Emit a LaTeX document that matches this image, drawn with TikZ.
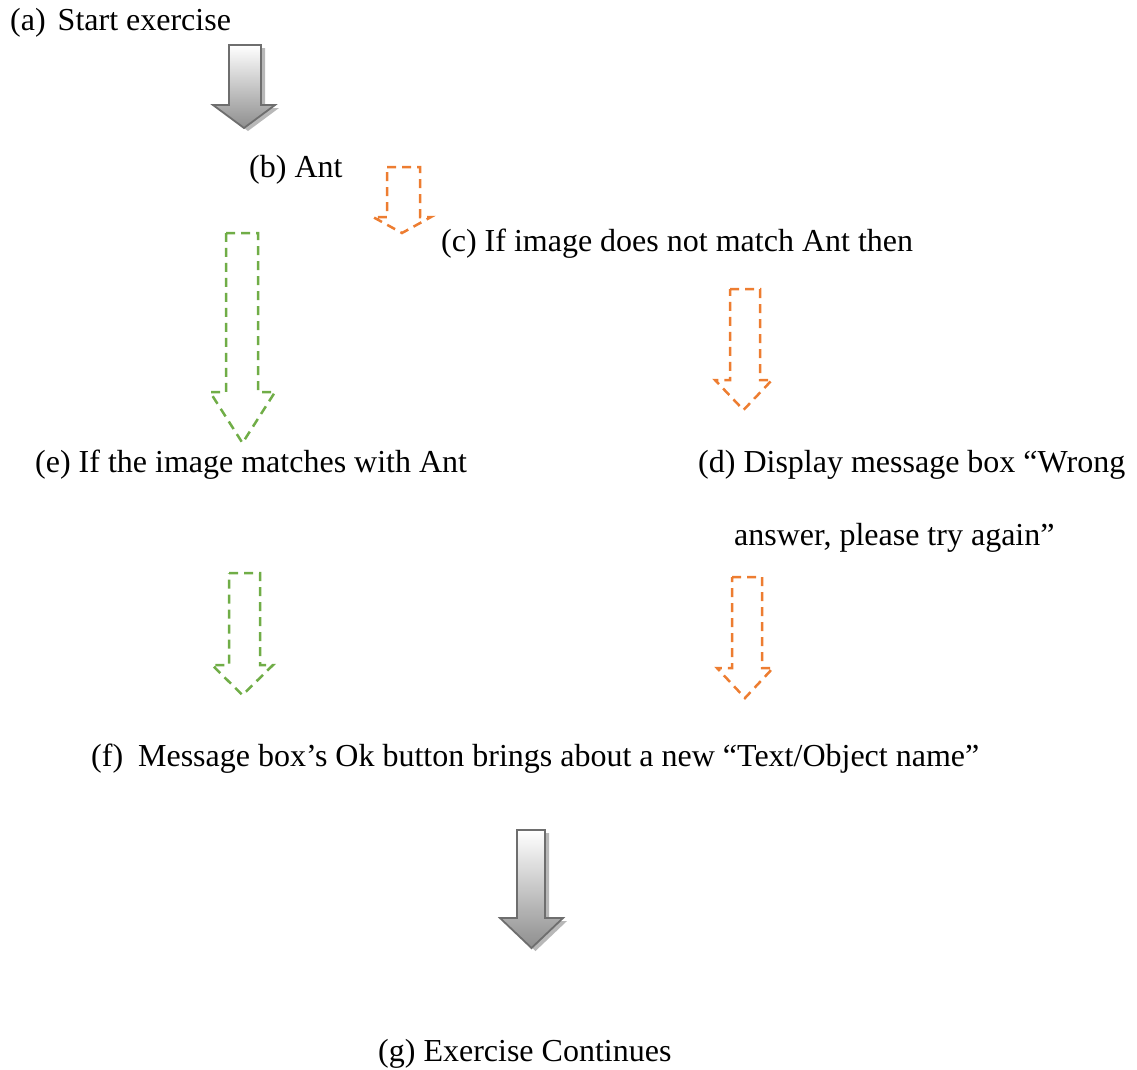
\documentclass[tikz,border=0pt]{standalone}
\usepackage{fontspec}
\setmainfont{Liberation Serif}
\definecolor{flowgreen}{HTML}{70AD47}
\definecolor{floworange}{HTML}{ED7D31}
\definecolor{arrowedge}{HTML}{6E6E6E}
\definecolor{arrowfill}{HTML}{8E8E8E}
\tikzset{
  lbl/.style={anchor=base west, inner sep=0pt, font=\fontsize{32}{38}\selectfont},
  dashgreen/.style={draw=flowgreen, line width=2.5pt, dash pattern=on 9pt off 6pt, line join=miter},
  dashorange/.style={draw=floworange, line width=2.5pt, dash pattern=on 9pt off 6pt, line join=miter},
  grayarrow/.style={draw=arrowedge, line width=1.8pt, top color=white, bottom color=arrowfill, line join=miter},
  grayshadow/.style={fill=black, fill opacity=0.28, draw=none}
}
% block arrow pointing down:
% #1 shaft left, #2 shaft right, #3 top, #4 shaft bottom, #5 head left, #6 head right, #7 tip y
\newcommand{\blockdown}[8]{%
  \path[#1] (#2,#4) -- (#3,#4) -- (#3,#5) -- (#7,#5)
    -- ({(#6+#7)/2},#8) -- (#6,#5) -- (#2,#5) -- cycle;}
\begin{document}
\begin{tikzpicture}[x=1pt,y=-1pt]
\useasboundingbox (0,0) rectangle (1137,1069);

% text steps
\node[lbl] (a) at (10,30) {(a)\hspace{12pt}Start exercise};
\node[lbl] (b) at (249,177) {(b) Ant};
\node[lbl] (c) at (441,251) {(c) If image does not match Ant then};
\node[lbl] (e) at (35,472) {(e) If the image matches with Ant};
\node[lbl] (d) at (698,472) {(d) Display message box “Wrong};
\node[lbl] (d2) at (734,545) {answer, please try again”};
\node[lbl] (f) at (91,766) {(f)\hspace{15pt}Message box’s Ok button brings about a new “Text/Object name”};
\node[lbl] (g) at (378,1061) {(g) Exercise Continues};

% shaded block arrows with drop shadow
\begin{scope}[shift={(4,3)}]
  \blockdown{grayshadow}{229}{261}{45}{105}{213}{275}{128}
  \blockdown{grayshadow}{517}{545}{830}{918}{500}{563}{948}
\end{scope}
\blockdown{grayarrow}{229}{261}{45}{105}{213}{275}{128}
\blockdown{grayarrow}{517}{545}{830}{918}{500}{563}{948}

% dashed block arrows
\blockdown{dashorange}{387}{420}{167}{217}{373}{431}{233}
\blockdown{dashgreen}{226}{258}{233}{392}{210}{275}{443}
\blockdown{dashorange}{730}{760}{289}{380}{715}{772}{410}
\blockdown{dashgreen}{229}{260}{573}{665}{212}{273}{695}
\blockdown{dashorange}{732}{762}{577}{668}{717}{773}{698}
\end{tikzpicture}
\end{document}
